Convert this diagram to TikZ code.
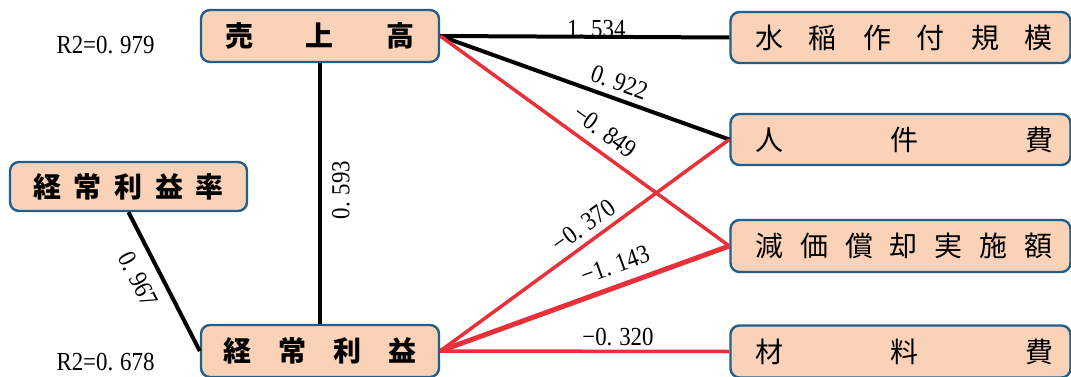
\documentclass[tikz,border=0pt]{standalone}
\usepackage{fontspec}
\setmainfont{Liberation Serif}
\newfontfamily\cjk{Noto Sans CJK JP}
\definecolor{boxfill}{RGB}{249,210,183}
\definecolor{boxline}{RGB}{30,95,140}
\definecolor{pathred}{RGB}{232,48,58}
\newcommand\cf[1]{\scalebox{0.88}[1]{#1}}
\newcommand\pd{.\kern0.3em}
\tikzset{
  varbox/.style={draw=boxline, line width=2.4pt, fill=boxfill, rounded corners=9pt,
    minimum height=51pt, inner sep=0pt, font=\cjk\fontsize{28}{30}\selectfont},
  leftbox/.style={varbox, minimum width=238pt, font=\cjk\bfseries\fontsize{28}{30}\selectfont},
  rightbox/.style={varbox, minimum width=340pt},
  posline/.style={line width=4pt, black},
  negline/.style={line width=3.5pt, pathred},
  coef/.style={font=\fontsize{26}{28}\selectfont, inner sep=0pt, text=black},
}
\begin{document}
\begin{tikzpicture}[x=1pt,y=1pt]
\useasboundingbox (0,0) rectangle (1071,376);
% left nodes
\node[leftbox, minimum height=52pt] (sales) at (320,340) {\makebox[190pt][s]{売\hfill 上\hfill 高}};
\node[leftbox, minimum height=49pt, minimum width=237pt] (ratio) at (128.5,189.5) {\makebox[191pt][s]{経\hfill 常\hfill 利\hfill 益\hfill 率}};
\node[leftbox, minimum height=52pt] (profit) at (320,25) {\makebox[193pt][s]{経\hfill 常\hfill 利\hfill 益}};
% right nodes
\node[rightbox] (scale) at (900.5,338.5) {\hspace{7pt}\makebox[298pt][s]{水\hfill 稲\hfill 作\hfill 付\hfill 規\hfill 模}};
\node[rightbox] (labor) at (900.5,236.5) {\hspace{7pt}\makebox[298pt][s]{人\hfill 件\hfill 費}};
\node[rightbox, minimum height=52pt] (depr) at (900.5,130) {\hspace{7pt}\makebox[298pt][s]{減\hfill 価\hfill 償\hfill 却\hfill 実\hfill 施\hfill 額}};
\node[rightbox, minimum height=52pt] (mat) at (900.5,24.5) {\hspace{7pt}\makebox[298pt][s]{材\hfill 料\hfill 費}};
% R2 labels
\node[coef] (r2a) at (105.5,331) {\cf{R2=0\pd979}};
\node[coef] (r2b) at (105.5,14) {\cf{R2=0\pd678}};
% connectors
\draw[posline] (sales.east) -- node[coef, above=-3pt, pos=0.54] {\cf{1\pd534}} (scale.west);
\draw[posline] (sales.east) -- node[coef, sloped, above=6pt, pos=0.6] {\cf{0\pd922}} (labor.west);
\draw[negline] (sales.east) -- node[coef, sloped, above=9pt, pos=0.53] {\cf{−0\pd849}} (depr.west);
\draw[negline] (profit.east) -- node[coef, sloped, above=6pt, pos=0.53] {\cf{−0\pd370}} (labor.west);
\draw[negline, line width=5pt] (profit.east) -- node[coef, sloped, above=10pt, pos=0.63] {\cf{−1\pd143}} (depr.west);
\draw[negline] (profit.east) -- node[coef, above=4pt, pos=0.615] {\cf{−0\pd320}} (mat.west);
\draw[posline] (profit.north) -- node[coef, sloped, below=10pt, pos=0.513] {\cf{0\pd593}} (sales.south);
\draw[posline] (ratio.south) -- node[coef, sloped, below=11pt, pos=0.41] {\cf{0\pd967}} (profit.west);
\end{tikzpicture}
\end{document}
